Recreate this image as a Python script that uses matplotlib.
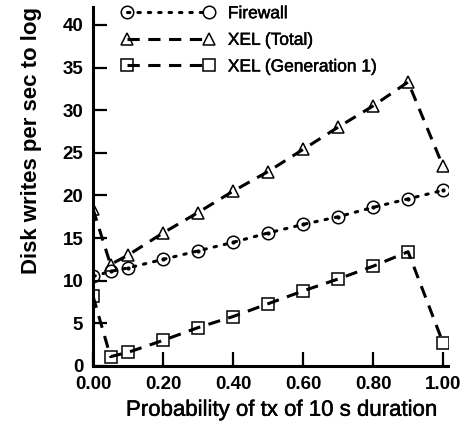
import matplotlib
matplotlib.use('Agg')
import matplotlib.pyplot as plt
import matplotlib.patheffects as pe

plt.rcParams['font.family'] = ['Liberation Sans', 'DejaVu Sans']

# probability that a transaction lasts 10 s
prob = [0.0, 0.05, 0.1, 0.2, 0.3, 0.4, 0.5, 0.6, 0.7, 0.8, 0.9, 1.0]
# disk writes per second to the log
firewall = [10.5, 11.1, 11.5, 12.5, 13.5, 14.5, 15.6, 16.6, 17.5, 18.6, 19.6, 20.6]
xel_total = [18.4, 11.9, 13.0, 15.6, 18.0, 20.5, 22.8, 25.4, 28.0, 30.5, 33.3, 23.4]
xel_gen1 = [8.2, 1.1, 1.6, 3.0, 4.5, 5.8, 7.3, 8.8, 10.2, 11.7, 13.4, 2.7]

x_ticks = [0.0, 0.2, 0.4, 0.6, 0.8, 1.0]
y_ticks = [0, 5, 10, 15, 20, 25, 30, 35, 40]

fig = plt.figure(figsize=(4.66, 4.33), dpi=100)
ax = fig.add_axes([93 / 466, 67 / 433, 355 / 466, 359 / 433])

mk = dict(markersize=9, markerfacecolor='none', markeredgecolor='black',
          markeredgewidth=1.1, color='black')

ax.plot(prob, firewall, marker='o', linestyle=(0, (0.8, 2.6)), linewidth=2.2,
        dash_capstyle='round', label='Firewall', **mk)
ax.plot(prob, firewall, marker='o', markersize=2, color='black', linestyle='none')
ax.plot(prob, xel_total, marker='^', linestyle=(0, (4, 2.8)), linewidth=2.2,
        label='XEL (Total)', **mk)
ax.plot(prob, xel_gen1, marker='s', linestyle=(0, (4, 2.8)), linewidth=2.2,
        label='XEL (Generation 1)', **mk)

ax.set_xlim(0, 1.014)
ax.set_ylim(0, 42.1)
ax.set_xticks(x_ticks)
ax.set_xticklabels([f'{v:.2f}' for v in x_ticks])
ax.set_yticks(y_ticks)

for side in ('top', 'right'):
    ax.spines[side].set_visible(False)
for side in ('left', 'bottom'):
    ax.spines[side].set_linewidth(2.2)

ax.tick_params(direction='in', length=10, width=1.6, labelsize=13.5)
ax.tick_params(axis='y', pad=7)
ax.tick_params(axis='x', pad=7)
for lab in ax.get_xticklabels() + ax.get_yticklabels():
    lab.set_fontweight('bold')

# regular weight text drawn a bit heavier
heavy = [pe.withStroke(linewidth=0.35, foreground='black')]

ax.set_xlabel('Probability of tx of 10 s duration', fontsize=16, path_effects=heavy)
ax.xaxis.set_label_coords(0.532, -0.094)
ax.set_ylabel('Disk writes per sec to log', fontsize=16, fontweight='bold')
ax.yaxis.set_label_coords(-0.145, 0.627)

leg = ax.legend(loc='upper left', bbox_to_anchor=(0.062, 1.022), frameon=False,
                numpoints=2, handlelength=5.3, handletextpad=0.8, labelspacing=0.66,
                borderaxespad=0, fontsize=12.5)
for t in leg.get_texts():
    t.set_path_effects(heavy)

fig.savefig('out.png', dpi=100)
